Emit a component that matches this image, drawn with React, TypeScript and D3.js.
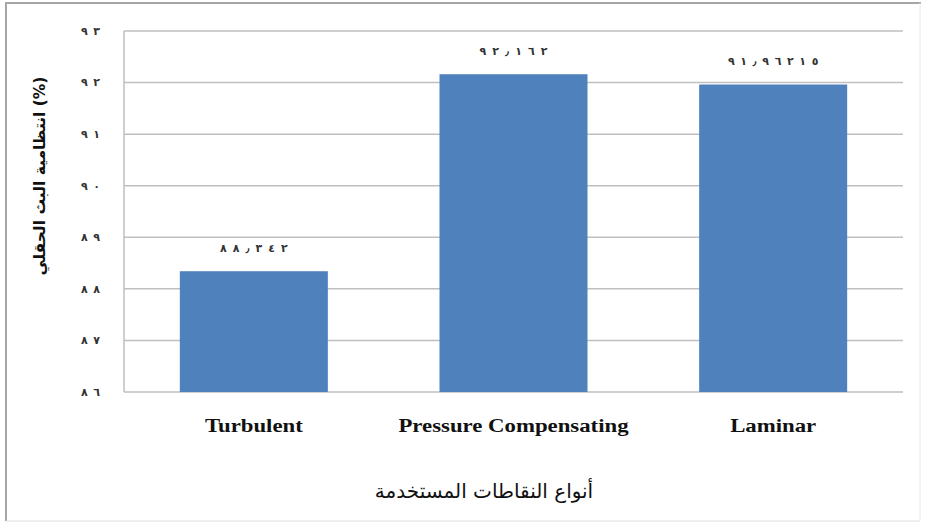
import React from "react";
import * as d3 from "d3";

const categories = ["Turbulent", "Pressure Compensating", "Laminar"];
const values = [88.342, 92.162, 91.96215];
const valueLabels = ["٨٨٫٣٤٢", "٩٢٫١٦٢", "٩١٫٩٦٢١٥"];
const yTicks = [86, 87, 88, 89, 90, 91, 92, 93];
const yTickLabels = ["٨٦", "٨٧", "٨٨", "٨٩", "٩٠", "٩١", "٩٢", "٩٣"];
const yTitle = "انتظامية البث الحقلي (%)";
const xTitle = "أنواع النقاطات المستخدمة";

const W = 926;
const H = 524;
const plot = { left: 124, right: 903, top: 31, bottom: 392 };

export default function App() {
  const x = d3
    .scaleBand<string>()
    .domain(categories)
    .range([plot.left, plot.right])
    .paddingInner(0.43)
    .paddingOuter(0.215);
  const y = d3.scaleLinear().domain([86, 93]).range([plot.bottom, plot.top]);
  const arabicFont = "'DejaVu Sans', sans-serif";

  return (
    <svg
      width={W}
      height={H}
      style={{ position: "absolute", left: 0, top: 0, background: "#fff" }}
    >
      <rect x={0} y={0} width={W} height={H} fill="#fff" />
      {/* outer frame */}
      <line x1={6} y1={3} x2={6} y2={521} stroke="#a6a6a6" strokeWidth={2} />
      <line x1={5} y1={3} x2={921} y2={3} stroke="#a6a6a6" strokeWidth={2} />
      <line x1={920} y1={3} x2={920} y2={521} stroke="#e8e8e8" strokeWidth={1} />
      <line x1={6} y1={521} x2={920} y2={521} stroke="#e0e0e0" strokeWidth={1} />

      {/* gridlines */}
      {yTicks.map((t) => (
        <line
          key={"g" + t}
          x1={plot.left}
          x2={plot.right}
          y1={y(t)}
          y2={y(t)}
          stroke="#bfbfbf"
          strokeWidth={1.5}
        />
      ))}
      {/* y axis line */}
      <line
        x1={plot.left}
        x2={plot.left}
        y1={plot.top}
        y2={plot.bottom}
        stroke="#bfbfbf"
        strokeWidth={1.5}
      />
      {/* y tick labels */}
      {yTicks.map((t, i) => (
        <text
          key={"t" + t}
          x={100}
          y={y(t)}
          dy="0.35em"
          textAnchor="end"
          fontFamily={arabicFont}
          fontSize={11}
          fontWeight="bold"
          textLength={yTickLabels[i].length * 9.5}
          lengthAdjust="spacing"
          fill="#333"
        >
          {yTickLabels[i]}
        </text>
      ))}

      {/* bars */}
      {categories.map((c, i) => (
        <rect
          key={"b" + c}
          x={x(c)}
          y={y(values[i])}
          width={x.bandwidth()}
          height={plot.bottom - y(values[i])}
          fill="#4f81bd"
        />
      ))}
      {/* data labels */}
      {categories.map((c, i) => (
        <text
          key={"l" + c}
          x={(x(c) as number) + x.bandwidth() / 2}
          y={y(values[i]) - 23}
          dy="0.35em"
          textAnchor="middle"
          fontFamily={arabicFont}
          fontSize={11}
          fontWeight="bold"
          textLength={valueLabels[i].length * 11.3}
          lengthAdjust="spacing"
          fill="#333"
        >
          {valueLabels[i]}
        </text>
      ))}
      {/* category labels */}
      {categories.map((c) => (
        <text
          key={"c" + c}
          transform={`translate(${(x(c) as number) + x.bandwidth() / 2}, 425) scale(1.2, 1)`}
          dy="0.35em"
          textAnchor="middle"
          fontFamily="'Liberation Serif', 'Times New Roman', serif"
          fontSize={19}
          fontWeight="bold"
          fill="#111"
        >
          {c}
        </text>
      ))}

      {/* y title */}
      <text
        transform={`translate(40, 176) rotate(-90)`}
        textAnchor="middle"
        dy="0.35em"
        fontFamily={arabicFont}
        fontSize={15.5}
        fontWeight="bold"
        fill="#111"
      >
        {yTitle}
      </text>
      {/* x title */}
      <text
        x={484}
        y={491}
        dy="0.35em"
        textAnchor="middle"
        fontFamily={arabicFont}
        fontSize={20}
        fill="#111"
      >
        {xTitle}
      </text>
    </svg>
  );
}
